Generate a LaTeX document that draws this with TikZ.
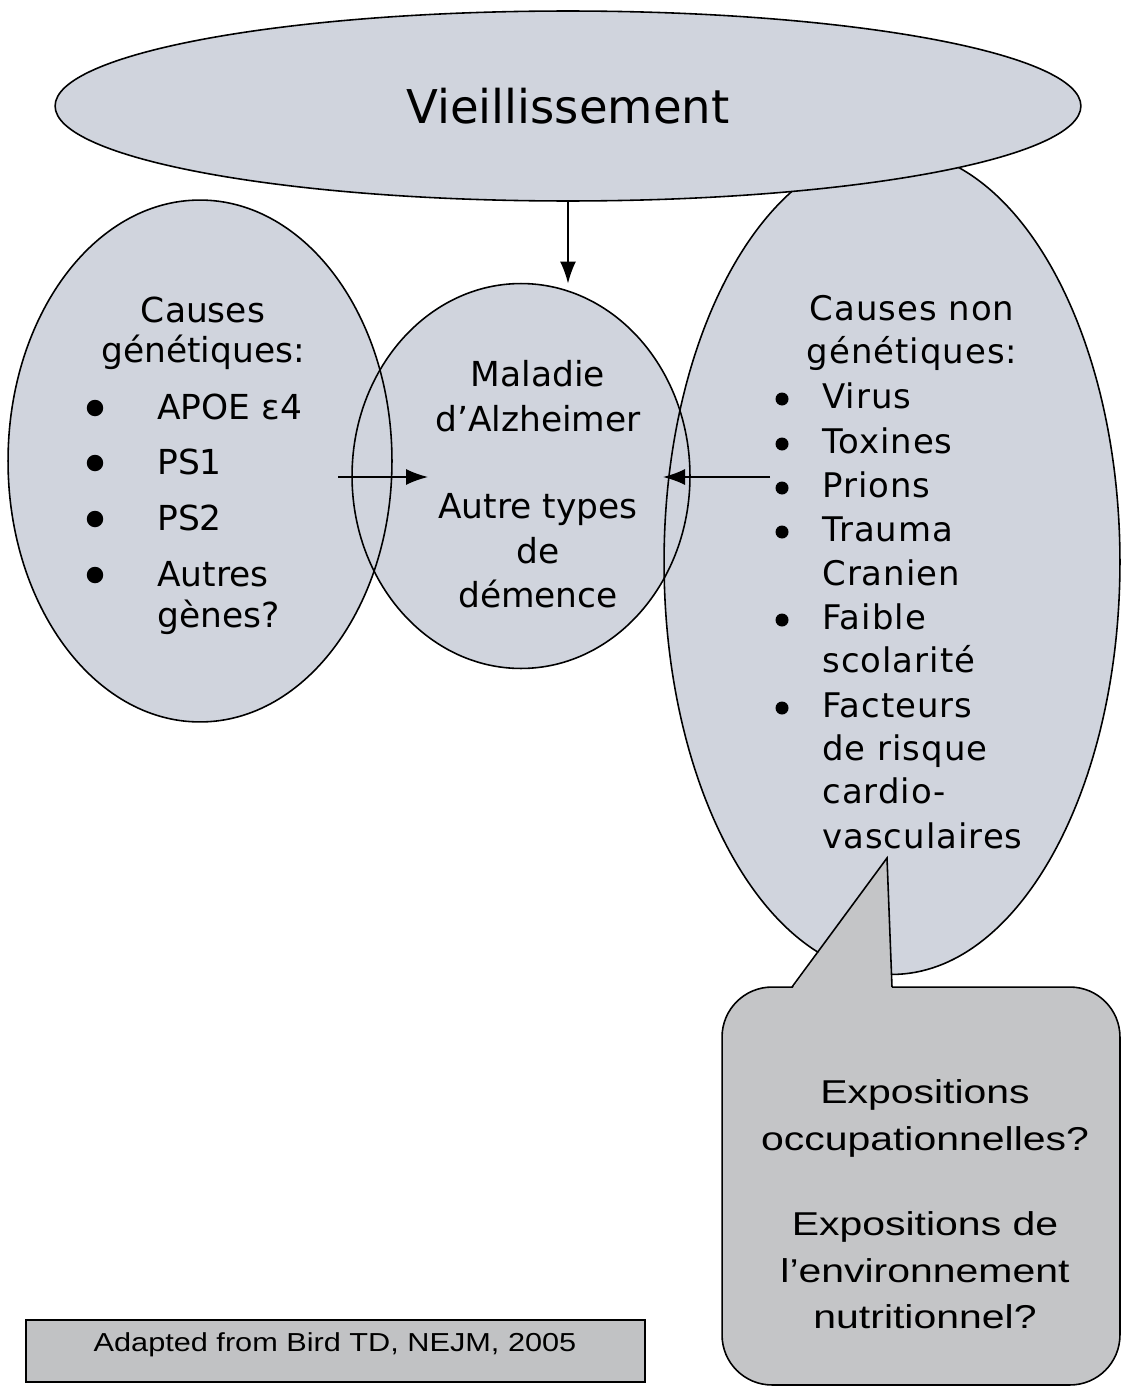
\documentclass[tikz,border=0pt]{standalone}
\usepackage{fontspec}
\setmainfont{DejaVu Sans}
\newfontfamily\spacedfont[LetterSpace=3]{DejaVu Sans}
\newfontfamily\arialwide[FakeStretch=1.24]{Liberation Sans}
\newfontfamily\arialnote[FakeStretch=1.18]{Liberation Sans}
\usepackage{xcolor}
\usetikzlibrary{arrows.meta,positioning,calc,shapes.geometric}
\definecolor{blobfill}{RGB}{208,212,221}
\definecolor{expofill}{RGB}{196,197,199}
\definecolor{notefill}{RGB}{193,194,196}
\tikzset{
  Blob/.style={ellipse, fill=blobfill, inner sep=0pt, outer sep=0pt},
  Rim/.style={line width=0.9pt},
  Gtxt/.style={font=\fontsize{19.6}{24}\selectfont, inner sep=0pt, anchor=base},
  Gitem/.style={Gtxt, anchor=base west},
  Ntxt/.style={font=\spacedfont\fontsize{19.3}{24}\selectfont, inner sep=0pt, anchor=base},
  Nitem/.style={Ntxt, anchor=base west},
  Etxt/.style={font=\arialwide\fontsize{18.8}{24}\selectfont, inner sep=0pt, anchor=base},
  GBul/.style={circle, fill=black, inner sep=0pt, minimum size=0.33cm},
  NBul/.style={circle, fill=black, inner sep=0pt, minimum size=0.26cm},
  Narr/.style={-{Latex[length=0.44cm, width=0.32cm]}, line width=0.9pt}
}

\begin{document}
\begin{tikzpicture}[x=0.02cm, y=-0.02cm]
  \fill[white] (0,0) rectangle (1122,1389);
  \useasboundingbox (0,0) rectangle (1122,1389);

  % the three cause blobs, filled first, rims after
  \node[Blob, minimum width=7.68cm, minimum height=10.44cm] (gen) at (200,461) {};
  \node[Blob, minimum width=6.76cm, minimum height=7.7cm] (alz) at (521,476) {};
  \node[Blob, minimum width=9.12cm, minimum height=16.5cm] (nongen) at (892,562) {};
  \draw[Rim] (gen.center) ellipse [x radius=3.84cm, y radius=5.22cm];
  \draw[Rim] (alz.center) ellipse [x radius=3.38cm, y radius=3.85cm];
  \draw[Rim] (nongen.center) ellipse [x radius=4.56cm, y radius=8.25cm];

  % callout with its pointer
  \node[draw, Rim, fill=expofill, rounded corners=1cm, minimum width=7.96cm,
        minimum height=7.96cm, inner sep=0pt] (expo) at (921,1186) {};
  \fill[expofill] (792,989) -- (887,858) -- (892,989) -- cycle;
  \draw[Rim] (792,987) -- (887,858) -- (892,987);

  % ageing on top
  \node[Blob, draw, Rim, minimum width=20.52cm, minimum height=3.8cm,
        font=\fontsize{26.5}{32}\selectfont] (vieil) at (568,106) {Vieillissement};

  % footer
  \node[draw, line width=1pt, fill=notefill, minimum width=12.38cm,
        minimum height=1.24cm, inner sep=0pt] (adapt) at (335.5,1351) {};
  \node[Etxt, font=\arialnote\fontsize{14.8}{18}\selectfont] (adaptTxt) at (335,1351)
    {Adapted from Bird TD, NEJM, 2005};

  % genetic causes
  \node[Gtxt] (genHead1) at (203,322) {Causes};
  \node[Gtxt] (genHead2) at (203,362) {génétiques:};
  \foreach \txt/\yy [count=\i] in {APOE ε4/419, PS1/474, PS2/530, Autres/586} {
    \node[GBul] (genBul\i) at (95,\yy-11) {};
    \node[Gitem] (genItem\i) at (157,\yy) {\txt};
  }
  \node[Gitem] (genItem5) at (157,627) {gènes?};

  % outcome
  \foreach \txt/\yy [count=\i] in {Maladie/386, d’Alzheimer/431, Autre types/518, de/563, démence/607}
    \node[Gtxt] (alzLine\i) at (538,\yy) {\txt};

  % non-genetic causes
  \node[Ntxt] (nonHead1) at (912,320) {Causes non};
  \node[Ntxt] (nonHead2) at (912,363) {génétiques:};
  \foreach \txt/\yy [count=\i] in {Virus/408, Toxines/453, Prions/497, Trauma/541,
      Cranien/585, Faible/629, scolarité/672, Facteurs/717, de risque/760,
      cardio-/803, vasculaires/848}
    \node[Nitem] (nonLine\i) at (822,\yy) {\txt};
  \foreach \yy [count=\i] in {408,453,497,541,629,717}
    \node[NBul] (nonBul\i) at (782,\yy-9) {};

  % exposures
  \foreach \txt/\yy [count=\i] in {Expositions/1103, occupationnelles?/1150,
      Expositions de/1235, l’environnement/1282, nutritionnel?/1328}
    \node[Etxt] (expoLine\i) at (925,\yy) {\txt};

  % arrows
  \coordinate (genTail) at (338,477);
  \coordinate (alzLeft) at (428,477);
  \coordinate (nonTail) at (770,477);
  \coordinate (alzRight) at (663,477);
  \draw[Narr] (vieil.south) -- (vieil.south |- alz.north);
  \draw[Narr] (genTail) -- (alzLeft);
  \draw[Narr] (nonTail) -- (alzRight);
\end{tikzpicture}
\end{document}
